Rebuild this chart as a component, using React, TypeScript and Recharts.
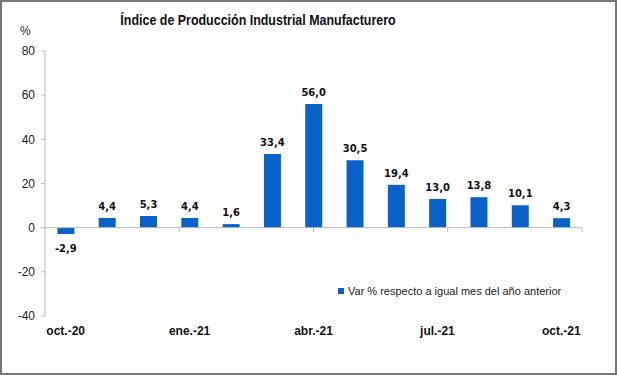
import React from "react"
import {
  BarChart,
  Bar,
  XAxis,
  YAxis,
  LabelList,
  ReferenceLine,
} from "recharts"

const months = [
  "oct.-20", "nov.-20", "dic.-20", "ene.-21", "feb.-21", "mar.-21", "abr.-21",
  "may.-21", "jun.-21", "jul.-21", "ago.-21", "sep.-21", "oct.-21",
]
const variation = [-2.9, 4.4, 5.3, 4.4, 1.6, 33.4, 56.0, 30.5, 19.4, 13.0, 13.8, 10.1, 4.3]
const yTicks = [-40, -20, 0, 20, 40, 60, 80]
const boundaryTicks = [3, 6, 9, 12]

const data = months.map((m, i) => ({ month: m, value: variation[i] }))

const BLUE = "#0862c8"
const FONT = "'Liberation Sans', Arial, sans-serif"

function fmt(v: number) {
  return v.toFixed(1).replace(".", ",")
}

function ValueLabel(props: any) {
  const { x, y, width, height, value } = props
  const top = Math.min(y, y + height)
  const bottom = Math.max(y, y + height)
  const cx = x + width / 2
  return (
    <text
      x={cx}
      y={value >= 0 ? top - 8 : bottom + 18}
      textAnchor="middle"
      fontSize={10}
      fontWeight="bold"
      fill="#111"
      fontFamily="'DejaVu Sans', Verdana, sans-serif"
    >
      {fmt(value)}
    </text>
  )
}

export default function App() {
  return (
    <div
      style={{
        position: "absolute",
        left: 0,
        top: 0,
        width: 617,
        height: 375,
        boxSizing: "border-box",
        border: "2px solid #777",
        background: "#fff",
        fontFamily: FONT,
      }}
    >
      <div
        style={{
          position: "absolute",
          left: 0,
          width: 512,
          top: 9,
          textAlign: "center",
          fontWeight: "bold",
          fontSize: 15,
          color: "#111",
          transform: "scaleX(0.83)",
          transformOrigin: "256px 0",
          whiteSpace: "nowrap",
        }}
      >
        Índice de Producción Industrial Manufacturero
      </div>
      <div style={{ position: "absolute", left: 18, top: 22, fontSize: 12, color: "#222" }}>%</div>
      <div
        style={{
          position: "absolute",
          left: 336,
          top: 283,
          display: "flex",
          alignItems: "center",
          fontSize: 11,
          color: "#222",
          whiteSpace: "nowrap",
        }}
      >
        <span style={{ width: 6, height: 6, background: BLUE, display: "inline-block", marginRight: 4 }} />
        Var % respecto a igual mes del año anterior
      </div>
      <div style={{ position: "absolute", left: -2, top: -2 }}>
        <BarChart
          width={617}
          height={375}
          data={data}
          margin={{ top: 51, right: 35, left: 0, bottom: 27 }}
          barCategoryGap="30%"
        >
          <XAxis
            dataKey="month"
            interval={2}
            axisLine={false}
            tickLine={false}
            tickSize={0}
            tickMargin={10}
            height={32}
            tick={{ fontSize: 12, fontWeight: "bold", fill: "#111", fontFamily: FONT }}
          />
          <XAxis xAxisId="num" type="number" domain={[0, 13]} hide />
          <YAxis
            domain={[-40, 80]}
            ticks={yTicks}
            width={45}
            axisLine={{ stroke: "#bbb" }}
            tickLine={{ stroke: "#bbb" }}
            tickSize={4}
            tickMargin={6}
            tick={{ fontSize: 12, fill: "#222", fontFamily: FONT }}
          />
          <ReferenceLine y={0} stroke="#bbb" />
          {boundaryTicks.map((t) => (
            <ReferenceLine
              key={t}
              xAxisId="num"
              segment={[{ x: t, y: 0 }, { x: t, y: -2 }]}
              stroke="#bbb"
            />
          ))}
          <Bar dataKey="value" fill={BLUE} isAnimationActive={false}>
            <LabelList dataKey="value" content={<ValueLabel />} />
          </Bar>
        </BarChart>
      </div>
    </div>
  )
}
